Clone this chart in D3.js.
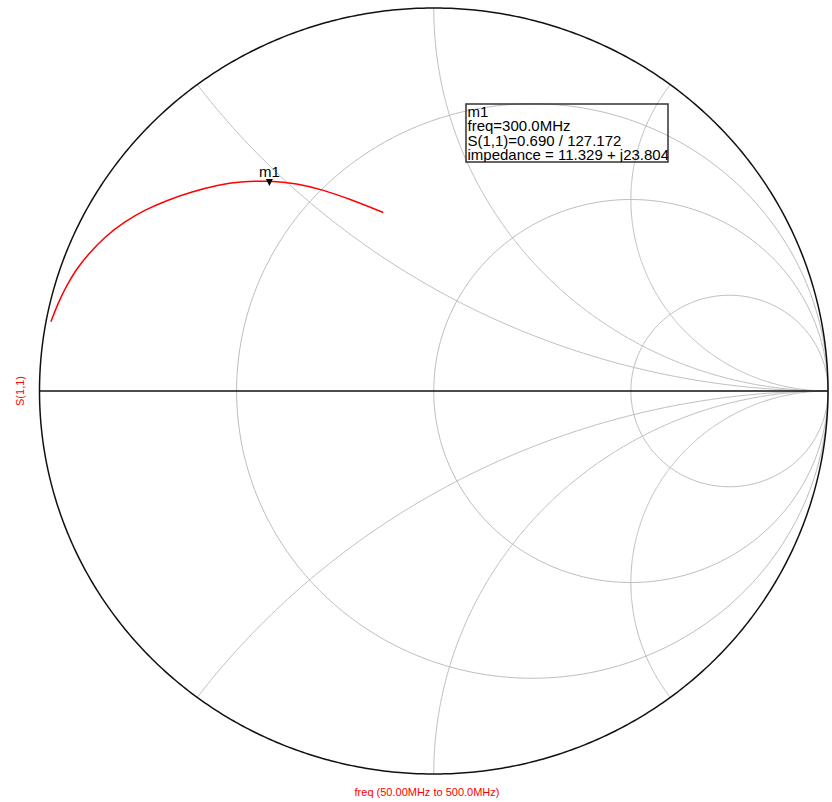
<!DOCTYPE html>
<html>
<head>
<meta charset="utf-8">
<script src="https://cdn.jsdelivr.net/npm/d3@7"></script>
<style>
  html, body { margin: 0; padding: 0; background: #fff; }
  svg { display: block; font-family: "Liberation Sans", Arial, sans-serif; }
</style>
</head>
<body>
<svg id="chart" width="832" height="802"></svg>
<script>
// ---- data ----
const resistanceCircles = [1/3, 1, 3];
const reactanceArcs = [0.5, 1, 2, -0.5, -1, -2];
// S(1,1) trace, reflection coefficient real / imaginary parts, 50 MHz -> 500 MHz
const s11Re = [-0.971, -0.954, -0.933, -0.908, -0.875, -0.834, -0.784, -0.733, -0.674, -0.614, -0.547, -0.492, -0.416, -0.348, -0.280, -0.213, -0.128];
const s11Im = [ 0.181,  0.227,  0.272,  0.316,  0.359,  0.403,  0.442,  0.473,  0.499,  0.520,  0.538,  0.547,  0.549,  0.542,  0.525,  0.501,  0.466];
const markerName = "m1";
const markerFreq = "300.0MHz";
const markerMag = 0.690;
const markerAngleDeg = 127.172;
const markerImpedance = "11.329 + j23.804";
const yAxisLabel = "S(1,1)";
const xAxisLabel = "freq (50.00MHz to 500.0MHz)";

// ---- layout ----
const svg = d3.select("#chart");
const x = d3.scaleLinear().domain([-1, 1]).range([39.5, 828]);
const y = d3.scaleLinear().domain([-1, 1]).range([774, 8]);
const line = d3.line().x(d => x(d[0])).y(d => y(d[1]));

function circlePts(cx, cy, r, a0, a1, n) {
  const pts = [];
  for (let i = 0; i <= n; i++) {
    const a = a0 + (a1 - a0) * i / n;
    pts.push([cx + r * Math.cos(a), cy + r * Math.sin(a)]);
  }
  return pts;
}

const grid = svg.append("g").attr("fill", "none").attr("stroke", "#bdbdbd").attr("stroke-width", 1);

// resistance circles
resistanceCircles.forEach(r => {
  grid.append("path").attr("d", line(circlePts(r / (1 + r), 0, 1 / (1 + r), 0, 2 * Math.PI, 360)) + "Z");
});

// reactance arcs
reactanceArcs.forEach(xv => {
  const ax = Math.abs(xv);
  const cy = 1 / ax, rad = 1 / ax;
  const ix = (ax * ax - 1) / (ax * ax + 1), iy = 2 * ax / (ax * ax + 1);
  let end = Math.atan2(iy - cy, ix - 1);
  if (end > -Math.PI / 2) end -= 2 * Math.PI;
  let pts = circlePts(1, cy, rad, -Math.PI / 2, end, 400);
  if (xv < 0) pts = pts.map(p => [p[0], -p[1]]);
  grid.append("path").attr("d", line(pts));
});

// outer boundary and real axis
svg.append("path").attr("d", line(circlePts(0, 0, 1, 0, 2 * Math.PI, 720)) + "Z")
  .attr("fill", "none").attr("stroke", "#111").attr("stroke-width", 1.5);
svg.append("line").attr("x1", x(-1)).attr("x2", x(1)).attr("y1", y(0)).attr("y2", y(0))
  .attr("stroke", "#111").attr("stroke-width", 1.5);

// trace
const trace = s11Re.map((v, i) => [v, s11Im[i]]);
svg.append("path").attr("d", d3.line().x(d => x(d[0])).y(d => y(d[1])).curve(d3.curveBasis)(trace))
  .attr("fill", "none").attr("stroke", "#ff0000").attr("stroke-width", 1.5);

// marker
const mRe = markerMag * Math.cos(markerAngleDeg * Math.PI / 180);
const mIm = markerMag * Math.sin(markerAngleDeg * Math.PI / 180);
const mx = x(mRe), my = y(mIm) + 5.5;
svg.append("path").attr("d", `M${mx - 3.5},${my - 7}L${mx + 3.5},${my - 7}L${mx},${my}Z`).attr("fill", "#000");
svg.append("text").attr("x", mx).attr("y", my - 9).attr("text-anchor", "middle")
  .attr("font-size", 15).attr("fill", "#000").text(markerName);

// marker readout box
const bx = 466, by = 104, bw = 202, bh = 58;
svg.append("clipPath").attr("id", "boxclip").append("rect").attr("x", bx).attr("y", by).attr("width", bw).attr("height", bh);
svg.append("rect").attr("x", bx).attr("y", by).attr("width", bw).attr("height", bh)
  .attr("fill", "none").attr("stroke", "#333").attr("stroke-width", 1.5);
const lines = [
  markerName,
  "freq=" + markerFreq,
  "S(1,1)=" + markerMag.toFixed(3) + " / " + markerAngleDeg.toFixed(3),
  "impedance = " + markerImpedance
];
const tg = svg.append("g").attr("clip-path", "url(#boxclip)");
lines.forEach((t, i) => {
  tg.append("text").attr("x", bx + 1.5).attr("y", 117 + i * 14.4)
    .attr("font-size", 15).attr("fill", "#000").attr("xml:space", "preserve").text(t);
});

// axis labels
svg.append("text").attr("transform", `translate(24,${y(0)}) rotate(-90)`).attr("text-anchor", "middle")
  .attr("font-size", 11).attr("fill", "#ff0000").text(yAxisLabel);
svg.append("text").attr("x", 427).attr("y", 796).attr("text-anchor", "middle")
  .attr("font-size", 11).attr("fill", "#ff0000").text(xAxisLabel);
</script>
</body>
</html>
